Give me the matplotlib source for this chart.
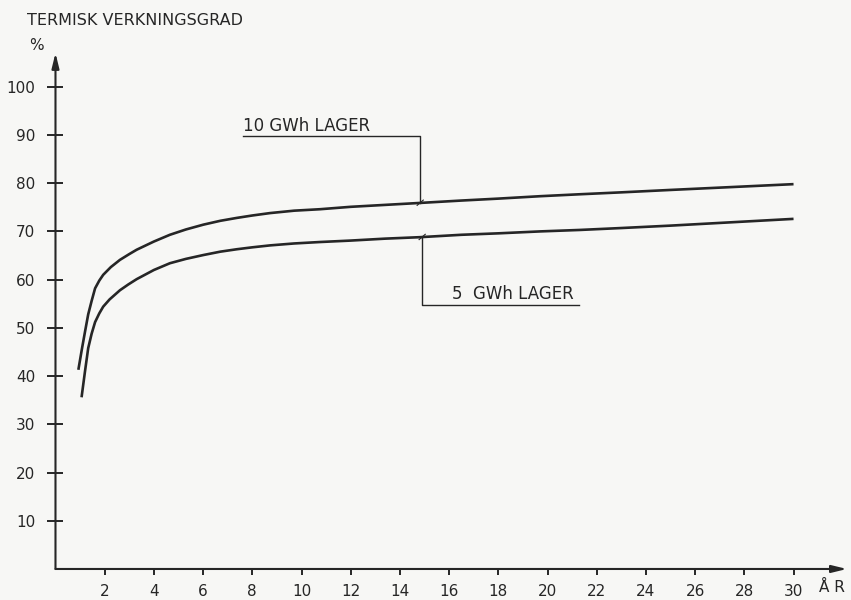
import matplotlib.pyplot as plt

# readings (year, thermal efficiency %)
years_10 = [0.93, 1.07, 1.2, 1.33, 1.47, 1.61, 1.78, 1.94, 2.25, 2.62, 3.0,
            3.3, 4.0, 4.65, 5.3, 6.01, 6.7, 7.37, 8.0, 8.72, 9.7, 10.75,
            12.0, 13.4, 14.8, 16.5, 18.0, 19.7, 21.3, 23.0, 25.0, 27.5, 30.0]
eff_10 = [41.3, 45.5, 49.2, 52.8, 55.6, 58.2, 59.8, 61.0, 62.6, 64.1, 65.3,
          66.2, 67.9, 69.3, 70.4, 71.4, 72.2, 72.8, 73.3, 73.8, 74.3, 74.6,
          75.1, 75.5, 75.9, 76.4, 76.8, 77.3, 77.7, 78.1, 78.6, 79.2, 79.8]

years_5 = [1.06, 1.2, 1.33, 1.47, 1.61, 1.78, 1.94, 2.2, 2.62, 2.96, 3.3,
           4.0, 4.65, 5.3, 6.01, 6.7, 7.37, 8.0, 8.72, 9.7, 10.75, 12.0,
           13.4, 14.8, 16.5, 18.0, 19.7, 21.3, 23.0, 25.0, 27.5, 30.0]
eff_5 = [35.6, 41.0, 45.8, 48.8, 51.2, 53.0, 54.4, 55.9, 57.8, 59.0, 60.1,
         62.0, 63.4, 64.3, 65.1, 65.8, 66.3, 66.7, 67.1, 67.5, 67.8, 68.1,
         68.5, 68.8, 69.3, 69.6, 70.0, 70.3, 70.7, 71.2, 71.9, 72.6]

xticks = list(range(2, 31, 2))
yticks = list(range(10, 101, 10))
label_10 = "10 GWh LAGER"
label_5 = "5  GWh LAGER"

ink = "#262626"
paper = "#f7f7f5"

fig = plt.figure(figsize=(8.51, 6.0), dpi=100, facecolor=paper)
ax = fig.add_axes([0.0652, 0.0517, 0.930, 0.86])
ax.set_facecolor(paper)
ax.set_xlim(0, 32.17)
ax.set_ylim(0, 107)

for s in ax.spines.values():
    s.set_visible(False)

# axes drawn as arrows
arrow = dict(arrowstyle="-|>,head_length=0.9,head_width=0.22", lw=1.5,
             color=ink, shrinkA=0, shrinkB=0)
ax.annotate("", xy=(32.17, 0), xytext=(0, 0), arrowprops=arrow,
            annotation_clip=False)
ax.annotate("", xy=(0, 107), xytext=(0, 0), arrowprops=arrow,
            annotation_clip=False)

ax.set_xticks(xticks)
ax.set_yticks(yticks)
ax.tick_params(axis="x", direction="out", length=4.5, width=1.4, color=ink,
               labelsize=11, labelcolor=ink, pad=6)
ax.tick_params(axis="y", direction="inout", length=11, width=1.4, color=ink,
               labelsize=11, labelcolor=ink, pad=9)

ax.plot(years_10, eff_10, color=ink, lw=1.9, solid_capstyle="butt",
        solid_joinstyle="round")
ax.plot(years_5, eff_5, color=ink, lw=1.9, solid_capstyle="butt",
        solid_joinstyle="round")

# leader lines for the labels
ax.plot([7.62, 14.82, 14.82], [89.8, 89.8, 75.9], color=ink, lw=1.0)
ax.plot([14.9, 14.9, 21.3], [68.8, 54.8, 54.8], color=ink, lw=1.0)
ax.plot([14.7, 14.95], [75.4, 76.5], color=ink, lw=0.8)
ax.plot([14.78, 15.03], [68.3, 69.4], color=ink, lw=0.8)

ax.text(7.62, 90.8, label_10, fontsize=12, color=ink, ha="left", va="baseline")
ax.text(16.1, 55.9, label_5, fontsize=12, color=ink, ha="left", va="baseline")

fig.text(0.0317, 0.958, "TERMISK VERKNINGSGRAD", fontsize=11.5, color=ink,
         ha="left", va="baseline")
fig.text(0.034, 0.917, "%", fontsize=11, color=ink, ha="left", va="baseline")
ax.text(31.05, -3.9, "Å R", fontsize=11, color=ink, ha="left", va="center",
        clip_on=False)

fig.savefig("out.png", dpi=100, facecolor=paper)
